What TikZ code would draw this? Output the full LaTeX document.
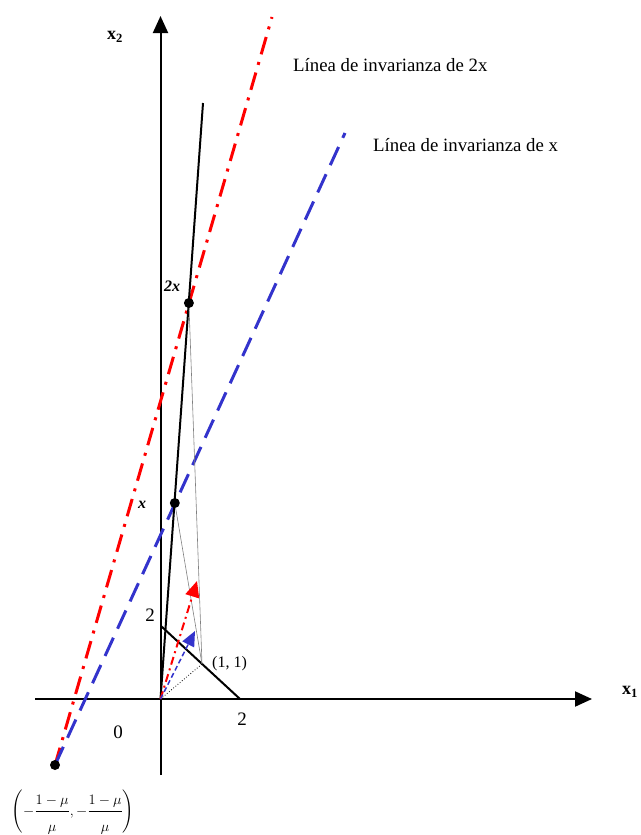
\documentclass[tikz,border=0pt]{standalone}
\usepackage{fontspec}
\setmainfont{Liberation Serif}
\usepackage{amsmath}
\usetikzlibrary{arrows.meta}
\definecolor{invred}{RGB}{255,0,0}
\definecolor{invblue}{RGB}{51,51,204}
\tikzset{
  axisline/.style={line width=2pt,-{Triangle[length=17pt,width=15pt]}},
  blackline/.style={line width=2pt},
  redinv/.style={invred,line width=3pt,dash pattern=on 18pt off 8pt on 3pt off 8pt},
  blueinv/.style={invblue,line width=3pt,dash pattern=on 20pt off 10pt},
  redvec/.style={invred,line width=2pt,dash pattern=on 8pt off 4pt on 2pt off 4pt,-{Triangle[length=16pt,width=14pt]}},
  bluevec/.style={invblue,line width=1.5pt,dash pattern=on 5pt off 3pt,-{Triangle[length=15pt,width=13pt]}},
  thinproj/.style={gray,line width=0.6pt},
  dotline/.style={line width=0.8pt,dotted},
  pt/.style={circle,fill=black,inner sep=0pt,minimum size=10pt},
  biglabel/.style={font=\fontsize{18.8}{22}\selectfont,inner sep=0pt},
  numlabel/.style={font=\fontsize{19}{22}\selectfont,inner sep=0pt},
  pointlabel/.style={font=\fontsize{16}{19}\selectfont\bfseries\itshape,inner sep=0pt},
  axislabel/.style={font=\fontsize{18}{22}\selectfont\bfseries,inner sep=0pt}
}
\begin{document}
\begin{tikzpicture}[x=1pt,y=-1pt]
\useasboundingbox (0,0) rectangle (640,835);
% coordinates
\coordinate (O) at (160.5,699);
\coordinate (xL) at (35,699);
\coordinate (xR) at (592,699);
\coordinate (yB) at (160.5,775);
\coordinate (yT) at (160.5,16);
\coordinate (A2) at (161,626);
\coordinate (B2) at (240,699);
\coordinate (P11) at (202,664);
\coordinate (Ltop) at (203,103);
\coordinate (Pm) at (55,765);
\coordinate (Rtop) at (272,17);
\coordinate (Btop) at (345,133);
\coordinate (RV) at (197,581);
\coordinate (BV) at (195,631);
% axes
\draw[axisline] (xL) -- (xR);
\draw[axisline] (yB) -- (yT);
% invariance lines
\draw[redinv] (Pm) -- (Rtop);
\draw[blueinv] (Pm) -- (Btop);
% budget line and ray
\draw[blackline] (A2) -- (B2);
\draw[blackline] (O) -- (Ltop);
% projections
\node[pt] (X2) at (188.9,303) {};
\node[pt] (X1) at (174.8,503) {};
\draw[thinproj] (X2) -- (P11);
\draw[thinproj] (X1) -- (P11);
\draw[dotline] (O) -- (P11);
% vectors
\draw[redvec] (O) -- (RV);
\draw[bluevec] (O) -- (BV);
\node[pt] (PM) at (Pm) {};
% labels
\node[axislabel] (lx2) at (115,37) {x\textsubscript{2}};
\node[axislabel] (lx1) at (630,692) {x\textsubscript{1}};
\node[biglabel,anchor=base west] (l2x) at (293,71) {Línea de invarianza de 2x};
\node[biglabel,anchor=base west] (lxx) at (373,151) {Línea de invarianza de x};
\node[pointlabel] (t2x) at (172,286) {2x};
\node[pointlabel] (tx) at (142,505) {x};
\node[numlabel] (ty2) at (150,615) {2};
\node[numlabel] (tx2) at (242,719) {2};
\node[numlabel] (t0) at (118,732) {0};
\node[font=\fontsize{16}{19}\selectfont,inner sep=0pt,anchor=west] (t11) at (212,664) {(1, 1)};
\node[font=\fontsize{15}{18}\selectfont,inner sep=0pt,anchor=base] (tpm) at (73,815)
  {$\left(-\dfrac{1-\mu\rule[-5pt]{0pt}{0pt}}{\rule{0pt}{18pt}\mu},-\dfrac{1-\mu\rule[-5pt]{0pt}{0pt}}{\rule{0pt}{18pt}\mu}\right)$};
\end{tikzpicture}
\end{document}
